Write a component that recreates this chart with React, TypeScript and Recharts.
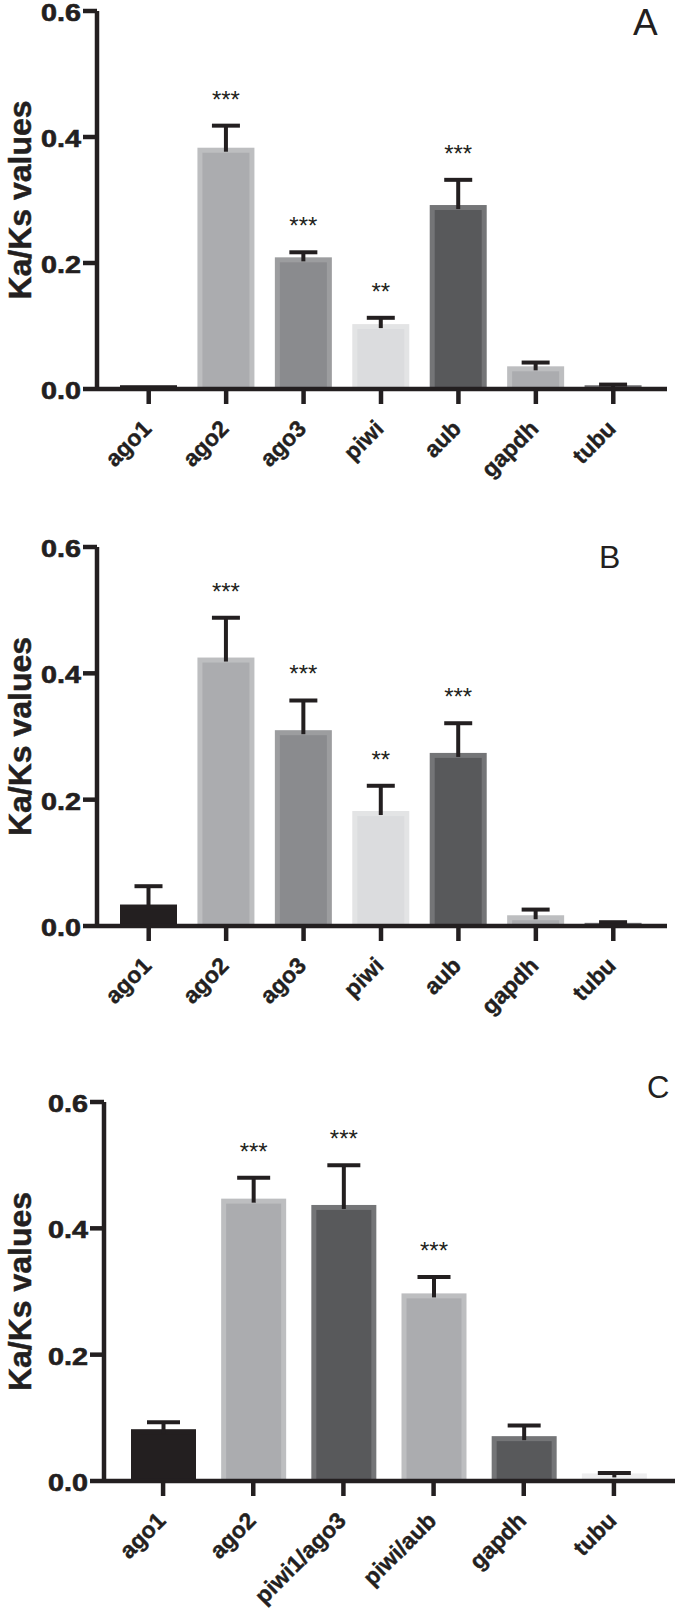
import React from "react";
import { Bar, BarChart, XAxis, YAxis } from "recharts";

// categories
const genesAB = ["ago1", "ago2", "ago3", "piwi", "aub", "gapdh", "tubu"];
const genesC = ["ago1", "ago2", "piwi1/ago3", "piwi/aub", "gapdh", "tubu"];

// Ka/Ks means and error (upper SEM) per panel
const meanA = [0.006, 0.383, 0.209, 0.103, 0.292, 0.036, 0.006];
const semA = [0, 0.035, 0.008, 0.01, 0.04, 0.006, 0.001];
const sigA = ["", "***", "***", "**", "***", "", ""];

const meanB = [0.034, 0.425, 0.31, 0.182, 0.274, 0.017, 0.005];
const semB = [0.029, 0.063, 0.047, 0.04, 0.047, 0.009, 0.001];
const sigB = ["", "***", "***", "**", "***", "", ""];

const meanC = [0.082, 0.447, 0.437, 0.297, 0.071, 0.012];
const semC = [0.011, 0.033, 0.063, 0.026, 0.017, 0.0005];
const sigC = ["", "***", "***", "***", "", ""];

const yTicks = [0, 0.2, 0.4, 0.6];
const yTitle = "Ka/Ks values";

const Y_MAX = 0.6;
const INK = "#231f20";
const FONT = "'Liberation Sans', Arial, Helvetica, sans-serif";

const BLACK = { fill: "#231f20", edge: "#231f20" };
const LIGHT = { fill: "#abacaf", edge: "#bdbec0" };
const MID = { fill: "#8a8b8e", edge: "#9c9d9f" };
const PALE = { fill: "#dbdcde", edge: "#e3e4e5" };
const DARK = { fill: "#58595b", edge: "#747577" };
const FAINT = { fill: "#eeeeef", edge: "#eeeeef" };

const colorsAB = [BLACK, LIGHT, MID, PALE, DARK, LIGHT, DARK];
const colorsC = [BLACK, LIGHT, DARK, LIGHT, DARK, FAINT];

const rows = (genes: string[], mean: number[], sem: number[], sig: string[]) =>
  genes.map((gene, i) => ({ idx: i, gene, mean: mean[i], sem: sem[i], sig: sig[i] }));

function makeShape(colors: typeof colorsAB, capW: number, plotH: number) {
  return (props: any) => {
    const { x, y, width, height, payload, background } = props;
    const c = colors[payload.idx];
    const perUnit = background && background.height ? background.height / Y_MAX : plotH / Y_MAX;
    const base = y + height;
    const errTop = base - (payload.mean + payload.sem) * perUnit;
    const cx = x + width / 2;
    const e = 5;
    return (
      <g>
        <rect x={x} y={y} width={width} height={Math.max(height, 1.5)} fill={c.edge} />
        {height > e && <rect x={x + e} y={y + e} width={width - 2 * e} height={height - e} fill={c.fill} />}
        {payload.sem > 0 && (
          <g stroke={INK} strokeWidth={4}>
            <line x1={cx} x2={cx} y1={Math.min(y + 4, base)} y2={errTop} />
            <line x1={cx - capW / 2} x2={cx + capW / 2} y1={errTop} y2={errTop} />
          </g>
        )}
        {payload.sig && (
          <text x={cx} y={errTop - 18} textAnchor="middle" fontSize={24} fill={INK} fontFamily={FONT}>
            {payload.sig}
          </text>
        )}
      </g>
    );
  };
}

const YTick = (props: any) => {
  const { x, y, payload } = props;
  return (
    <g transform={`translate(${x},${y})`}>
      <text
        transform="scale(1.25,1)"
        textAnchor="end"
        dy={10}
        fontSize={23}
        fontWeight="bold"
        fill={INK}
        stroke={INK}
        strokeWidth={0.6}
        fontFamily={FONT}
      >
        {Number(payload.value).toFixed(1)}
      </text>
    </g>
  );
};

const XTick = (props: any) => {
  const { x, y, payload } = props;
  return (
    <g transform={`translate(${x + 4},${y + 24})`}>
      <text
        transform="rotate(-45)"
        textAnchor="end"
        fontSize={23}
        fontWeight="bold"
        fill={INK}
        stroke={INK}
        strokeWidth={0.4}
        fontFamily={FONT}
      >
        {payload.value}
      </text>
    </g>
  );
};

interface PanelProps {
  data: ReturnType<typeof rows>;
  colors: typeof colorsAB;
  letter: string;
  top: number;
  height: number;
  plotTop: number;
  plotBottom: number;
  axisX: number;
  right: number;
  padL: number;
  padR: number;
  barSize: number;
  capW: number;
  letterX: number;
  letterY: number;
  letterSize: number;
}

function Panel(p: PanelProps) {
  const plotH = p.plotBottom - p.plotTop;
  return (
    <div style={{ position: "absolute", left: 0, top: p.top, width: 675, height: p.height }}>
      <BarChart
        width={675}
        height={p.height}
        data={p.data}
        margin={{ top: p.plotTop, right: p.right, bottom: 0, left: 0 }}
        barSize={p.barSize}
      >
        <YAxis
          type="number"
          domain={[0, Y_MAX]}
          ticks={yTicks}
          interval={0}
          width={p.axisX}
          axisLine={{ stroke: INK, strokeWidth: 4.5 }}
          tickLine={{ stroke: INK, strokeWidth: 4.5 }}
          tickSize={14}
          tick={<YTick />}
        />
        <XAxis
          dataKey="gene"
          interval={0}
          height={p.height - p.plotBottom}
          padding={{ left: p.padL, right: p.padR }}
          axisLine={{ stroke: INK, strokeWidth: 4.5 }}
          tickLine={{ stroke: INK, strokeWidth: 4.5 }}
          tickSize={15}
          tick={<XTick />}
        />
        <Bar dataKey="mean" isAnimationActive={false} shape={makeShape(p.colors, p.capW, plotH)} />
      </BarChart>
      <svg width={675} height={p.height} style={{ position: "absolute", left: 0, top: 0, pointerEvents: "none" }}>
        <text
          transform={`translate(20,${(p.plotTop + p.plotBottom) / 2}) rotate(-90)`}
          textAnchor="middle"
          dominantBaseline="central"
          fontSize={32}
          fontWeight="bold"
          fill={INK}
          stroke={INK}
          strokeWidth={0.5}
          fontFamily={FONT}
        >
          {yTitle}
        </text>
        <text x={p.letterX} y={p.letterY} fontSize={p.letterSize} fill={INK} fontFamily={FONT}>
          {p.letter}
        </text>
      </svg>
    </div>
  );
}

export default function App() {
  return (
    <div style={{ position: "absolute", left: 0, top: 0, width: 675, height: 1623, background: "#fff", overflow: "hidden" }}>
      <style>{"html,body{margin:0;padding:0;overflow:hidden;background:#fff}"}</style>
      <Panel
        data={rows(genesAB, meanA, semA, sigA)}
        colors={colorsAB}
        letter="A"
        top={0}
        height={500}
        plotTop={11}
        plotBottom={389}
        axisX={97}
        right={8}
        padL={13}
        padR={15}
        barSize={57}
        capW={28}
        letterX={633}
        letterY={35}
        letterSize={37}
      />
      <Panel
        data={rows(genesAB, meanB, semB, sigB)}
        colors={colorsAB}
        letter="B"
        top={500}
        height={520}
        plotTop={47}
        plotBottom={426}
        axisX={97}
        right={8}
        padL={13}
        padR={15}
        barSize={57}
        capW={28}
        letterX={599}
        letterY={68}
        letterSize={32}
      />
      <Panel
        data={rows(genesC, meanC, semC, sigC)}
        colors={colorsC}
        letter="C"
        top={1020}
        height={603}
        plotTop={82}
        plotBottom={461}
        axisX={104}
        right={0}
        padL={14}
        padR={16}
        barSize={65}
        capW={33}
        letterX={647}
        letterY={78}
        letterSize={31}
      />
    </div>
  );
}
